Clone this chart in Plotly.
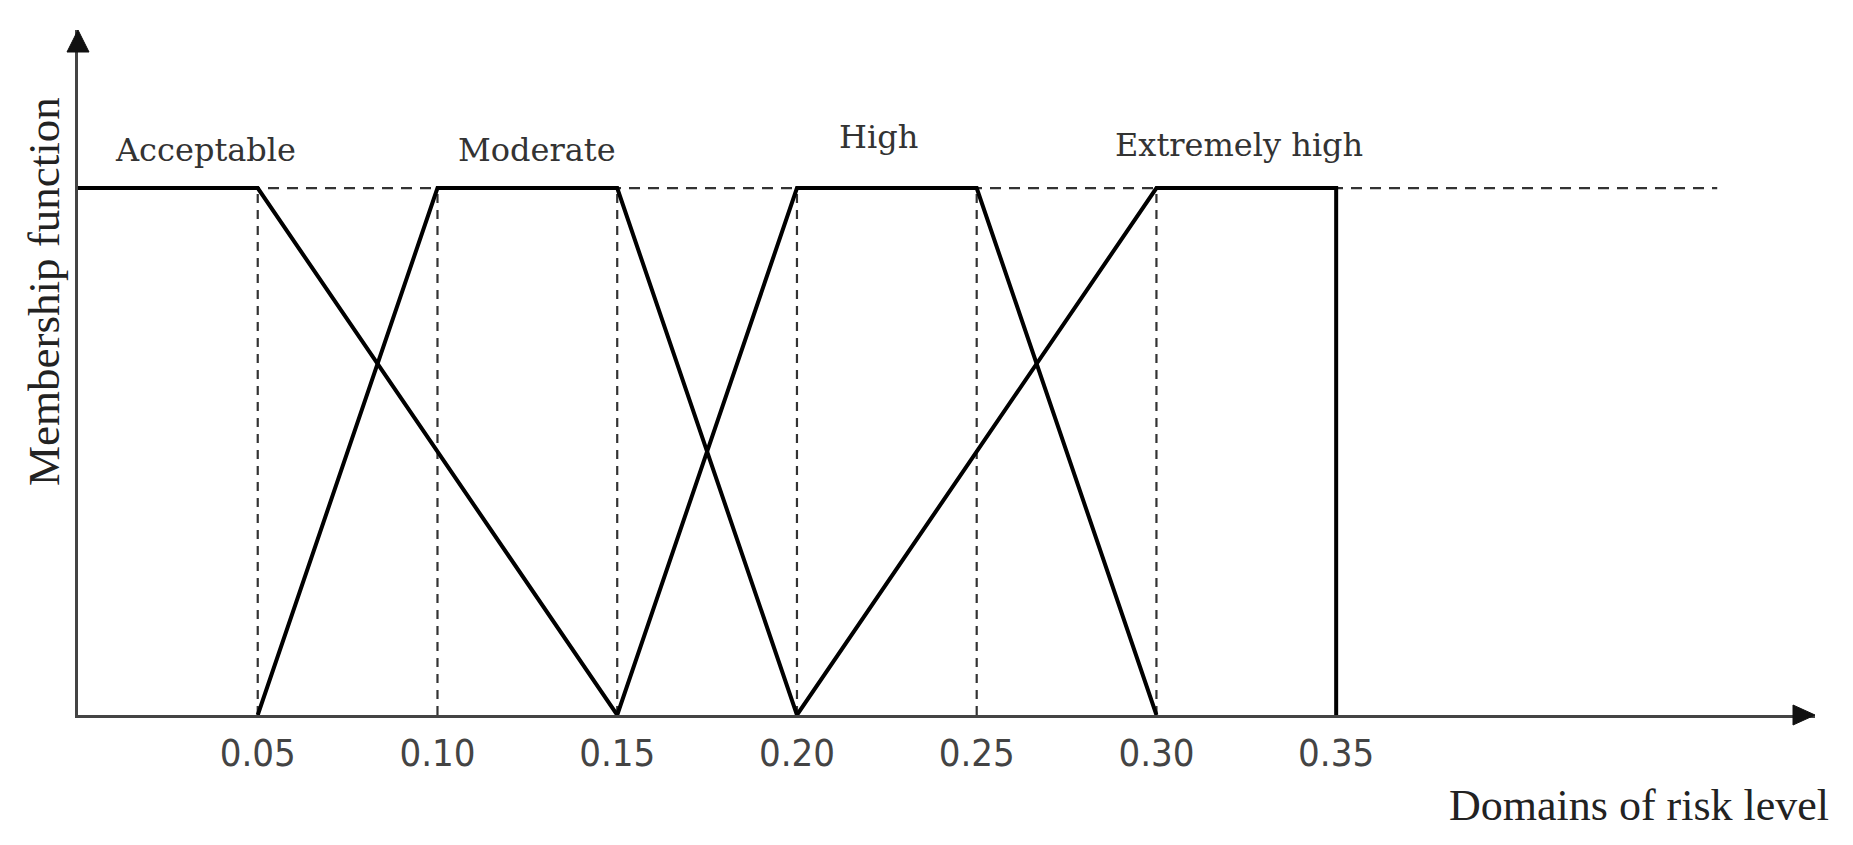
import plotly.graph_objects as go

# ---- data ----
acceptable_x = [0.0, 0.05, 0.15]
acceptable_y = [1, 1, 0]
moderate_x = [0.05, 0.10, 0.15, 0.20]
moderate_y = [0, 1, 1, 0]
high_x = [0.15, 0.20, 0.25, 0.30]
high_y = [0, 1, 1, 0]
extreme_x = [0.20, 0.30, 0.35, 0.35]
extreme_y = [0, 1, 1, 0]

category_names = ["Acceptable", "Moderate", "High", "Extremely high"]
category_label_x = [0.0354, 0.1278, 0.2227, 0.3231]
category_label_y = [1.072, 1.072, 1.097, 1.082]

guide_x = [0.05, 0.10, 0.15, 0.20, 0.25, 0.30]
guide_top = 1.0
guide_h_end = 0.456

tick_vals = [0.05, 0.10, 0.15, 0.20, 0.25, 0.30, 0.35]
tick_text = ["0.05", "0.10", "0.15", "0.20", "0.25", "0.30", "0.35"]

x_range = [0, 0.4832]
y_range = [0, 1.3]

# ---- layout geometry ----
W, H = 1853, 845
ML, MR, MT, MB = 78, 38, 30, 130
PW, PH = W - ML - MR, H - MT - MB

fig = go.Figure()

# dashed guides
vx, vy = [], []
for g in guide_x:
    vx += [g, g, None]
    vy += [0, guide_top, None]
fig.add_trace(go.Scatter(x=vx, y=vy, mode="lines",
                         line=dict(color="#333", width=2.2, dash="9px,7px"),
                         hoverinfo="skip", showlegend=False))
fig.add_trace(go.Scatter(x=[0, guide_h_end], y=[guide_top, guide_top], mode="lines",
                         line=dict(color="#333", width=2.4, dash="11px,8px"),
                         hoverinfo="skip", showlegend=False))

for xs, ys in [(acceptable_x, acceptable_y), (moderate_x, moderate_y),
               (high_x, high_y), (extreme_x, extreme_y)]:
    fig.add_trace(go.Scatter(x=xs, y=ys, mode="lines",
                             line=dict(color="#000", width=4),
                             hoverinfo="skip", showlegend=False))

annotations = []
for name, lx, ly in zip(category_names, category_label_x, category_label_y):
    annotations.append(dict(x=lx, y=ly, xref="x", yref="y", text=name, showarrow=False,
                            xanchor="center", yanchor="middle",
                            font=dict(family="DejaVu Serif", size=32, color="#333")))

annotations.append(dict(x=(1639 - ML) / PW, y=-(805 - 715) / PH, xref="paper", yref="paper",
                        text="Domains of risk level", showarrow=False,
                        xanchor="center", yanchor="middle",
                        font=dict(family="Liberation Serif", size=44, color="#222")))
annotations.append(dict(x=(44 - ML) / PW, y=(715 - 292) / PH, xref="paper", yref="paper",
                        text="Membership function", showarrow=False, textangle=-90,
                        xanchor="center", yanchor="middle",
                        font=dict(family="Liberation Serif", size=45, color="#222")))

# arrowheads (paper coordinates)
al, ah = 22 / PW, 10 / PH   # x-axis arrow: length, half height
bl, bw = 22 / PH, 11 / PW   # y-axis arrow: length, half width
shapes = [
    dict(type="path", xref="paper", yref="paper",
         path=f"M 1 0 L {1 - al} {ah} L {1 - al} {-ah} Z",
         fillcolor="#111", line=dict(color="#111", width=1)),
    dict(type="path", xref="paper", yref="paper",
         path=f"M 0 1 L {bw} {1 - bl} L {-bw} {1 - bl} Z",
         fillcolor="#111", line=dict(color="#111", width=1)),
]

fig.update_layout(
    width=W, height=H,
    margin=dict(l=ML, r=MR, t=MT, b=MB, pad=0),
    paper_bgcolor="white", plot_bgcolor="white",
    annotations=annotations, shapes=shapes,
    xaxis=dict(range=x_range, showgrid=False, zeroline=False,
               showline=True, linewidth=3, linecolor="#444",
               ticks="", tickvals=tick_vals, ticktext=tick_text,
               ticklabelstandoff=2,
               tickfont=dict(family="Liberation Sans Narrow, DejaVu Sans Condensed, Liberation Sans",
                             size=38, color="#444")),
    yaxis=dict(range=y_range, showgrid=False, zeroline=False,
               showline=True, linewidth=3, linecolor="#444",
               ticks="", showticklabels=False),
)

fig.write_html("out.html", config={"displayModeBar": False},
               post_script="document.body.style.margin='0';document.body.style.overflow='hidden';")
